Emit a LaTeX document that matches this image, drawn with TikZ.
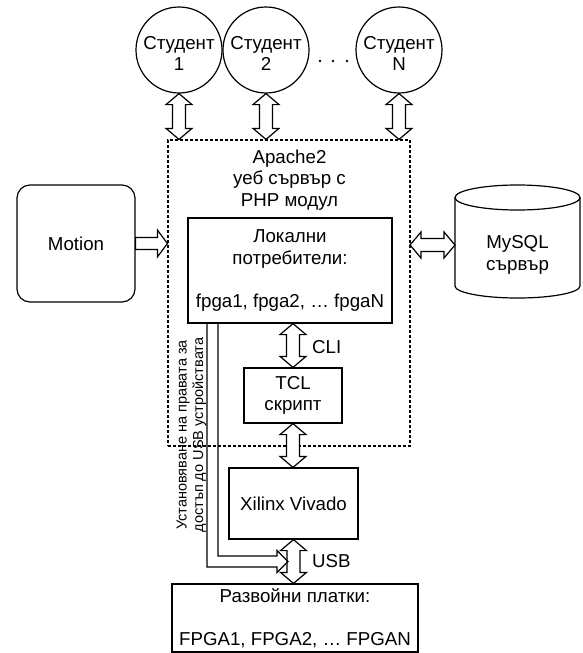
\documentclass[tikz,border=0pt]{standalone}
\usepackage{fontspec}
\setmainfont{Liberation Sans}
\usetikzlibrary{calc}
\tikzset{
  base/.style={font=\fontsize{18.7}{21.5}\selectfont, align=center, inner sep=0pt},
  box/.style={base, draw, line width=1.2pt},
  hollow/.style={draw, fill=white, line width=1.2pt, line join=miter},
  stud/.style={box, circle, minimum size=86pt},
  webbox/.style={draw, line width=1.2pt, dash pattern=on 3pt off 2pt},
  small/.style={font=\fontsize{14.5}{16.5}\selectfont, align=center, inner sep=0pt}
}
\newcommand\dblarr[2]{\draw[hollow] (#1)
 -- ($(#1)!11pt!(#2)!13pt!90:(#2)$)
 -- ($(#1)!11pt!(#2)!6.5pt!90:(#2)$)
 -- ($(#2)!11pt!(#1)!6.5pt!-90:(#1)$)
 -- ($(#2)!11pt!(#1)!13pt!-90:(#1)$)
 -- (#2)
 -- ($(#2)!11pt!(#1)!13pt!90:(#1)$)
 -- ($(#2)!11pt!(#1)!6.5pt!90:(#1)$)
 -- ($(#1)!11pt!(#2)!6.5pt!-90:(#2)$)
 -- ($(#1)!11pt!(#2)!13pt!-90:(#2)$)
 -- cycle;}
\newcommand\sglarr[2]{\draw[hollow] ($(#1)!6pt!90:(#2)$)
 -- ($(#2)!10pt!(#1)!6pt!-90:(#1)$)
 -- ($(#2)!10pt!(#1)!13.5pt!-90:(#1)$)
 -- (#2)
 -- ($(#2)!10pt!(#1)!13.5pt!90:(#1)$)
 -- ($(#2)!10pt!(#1)!6pt!90:(#1)$)
 -- ($(#1)!6pt!-90:(#2)$)
 -- cycle;}
\begin{document}
\begin{tikzpicture}[x=1pt,y=-1pt]
\useasboundingbox (0,0) rectangle (582,653);

% students
\node[stud] (s1) at (179,50) {};
\node[stud] (s2) at (266,50) {};
\node[stud] (sN) at (399,50) {};
\node[base] (s1t) at (179,53.5) {Студент\\1};
\node[base] (s2t) at (266,53.5) {Студент\\2};
\node[base] (sNt) at (399,53.5) {Студент\\N};
\fill (320,61) circle (1.3pt) (333,61) circle (1.3pt) (347,61) circle (1.3pt);

% web server (dashed)
\node[webbox, minimum width=242pt, minimum height=306pt, inner sep=0pt] (web) at (289,293) {};
\node[base] (apache) at (289.5,180) {Apache2\\уеб сървър с\\PHP модул};

% local users
\node[box, minimum width=204pt, minimum height=105pt] (loc) at (290,270.5)
  {Локални\\потребители:\\[21.5pt]fpga1, fpga2, … fpgaN};

% motion
\node[box, rounded corners=13pt, minimum width=118pt, minimum height=117pt] (motion) at (76,243.5) {Motion};

% mysql cylinder
\draw[line width=1.2pt] (455,197.5) -- (455,286) arc[start angle=180, end angle=360, x radius=62.5pt, y radius=12pt] -- (580,197.5);
\draw[line width=1.2pt] (517.5,197.5) ellipse [x radius=62.5pt, y radius=12.5pt];
\node[base] (mysql) at (517.5,255) {MySQL\\сървър};

% TCL, Vivado, boards
\node[box, minimum width=98pt, minimum height=55pt] (tcl) at (293,395.5) {TCL\\скрипт};
\node[box, minimum width=129pt, minimum height=71pt] (xil) at (293.5,503.5) {Xilinx Vivado};
\node[box, minimum width=246pt, minimum height=68pt] (brd) at (295,618)
  {Развойни платки:\\[21.5pt]FPGA1, FPGA2, … FPGAN};

% student arrows
\coordinate (a1) at (s1.south); \coordinate (b1) at (s1.south |- web.north);
\coordinate (a2) at (s2.south); \coordinate (b2) at (s2.south |- web.north);
\coordinate (aN) at (sN.south); \coordinate (bN) at (sN.south |- web.north);
\dblarr{a1}{b1}
\dblarr{a2}{b2}
\dblarr{aN}{bN}

% motion arrow
\coordinate (ma) at (motion.east); \coordinate (mb) at (motion.east -| web.west);
\sglarr{ma}{mb}

% mysql arrow
\coordinate (qa) at (410,245); \coordinate (qb) at (455,245);
\dblarr{qa}{qb}

% CLI arrow
\coordinate (ca) at (tcl.north |- loc.south); \coordinate (cb) at (tcl.north);
\dblarr{ca}{cb}
\node[base, anchor=west] (cli) at (312,347) {CLI};

% TCL - Vivado
\coordinate (ta) at (tcl.south); \coordinate (tb) at (tcl.south |- xil.north);
\dblarr{ta}{tb}

% USB
\coordinate (ua) at (xil.south); \coordinate (ub) at (xil.south |- brd.north);
\dblarr{ua}{ub}
\node[base, anchor=west] (usb) at (312,561) {USB};

% L-shaped permission arrow
\draw[line width=1.2pt, line join=miter] (207,323) -- (207,567) -- (277,567) -- (277,572.5)
  -- (288,561.5) -- (277,550.5) -- (277,556) -- (218,556) -- (218,323);
\node[small, rotate=90] (perm) at (191.5,435) {Установяване на правата за\\достъп до USB устройствата};
\end{tikzpicture}
\end{document}
